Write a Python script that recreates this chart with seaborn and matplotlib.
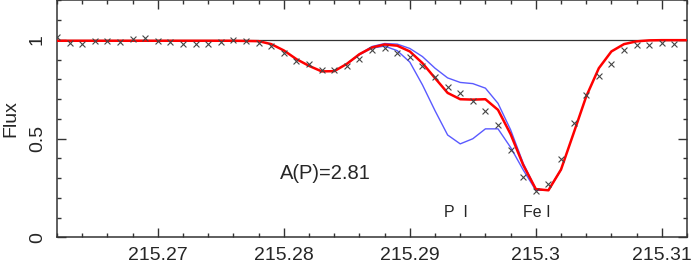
import numpy as np
import pandas as pd
import matplotlib
matplotlib.use("Agg")
import matplotlib.pyplot as plt
from matplotlib.ticker import MultipleLocator, FixedLocator
import seaborn as sns

# observed spectrum (crosses), sampled every 0.001 from 215.262
obs_start = 215.262
obs_flux = [1.012, 0.983, 0.981, 0.992, 0.993, 0.988, 1.005, 1.007, 0.993, 0.988,
            0.981, 0.981, 0.980, 0.988, 0.998, 0.992, 0.985, 0.966, 0.931, 0.895,
            0.877, 0.848, 0.848, 0.868, 0.905, 0.946, 0.958, 0.932, 0.912, 0.865,
            0.811, 0.760, 0.730, 0.691, 0.639, 0.568, 0.441, 0.304, 0.236, 0.272,
            0.397, 0.581, 0.721, 0.816, 0.877, 0.946, 0.971, 0.971, 0.985, 0.981]

# best fit synthesis A(P)=2.81 (red), same grid, one point longer
fit_flux = [0.995, 0.995, 0.995, 0.995, 0.995, 0.995, 0.995, 0.995, 0.995, 0.995,
            0.995, 0.995, 0.995, 0.995, 0.995, 0.994, 0.993, 0.978, 0.946, 0.902,
            0.868, 0.840, 0.841, 0.878, 0.927, 0.961, 0.976, 0.970, 0.941, 0.882,
            0.806, 0.731, 0.699, 0.697, 0.699, 0.645, 0.522, 0.366, 0.244, 0.238,
            0.343, 0.527, 0.713, 0.856, 0.941, 0.978, 0.992, 0.997, 0.998, 0.998,
            0.998]

# +/- abundance syntheses (blue), only where they differ from the fit
blue_start = 215.285
blue_hi = [0.878, 0.927, 0.966, 0.981, 0.978, 0.956, 0.915, 0.856, 0.807, 0.784,
           0.778, 0.755, 0.678, 0.544, 0.375, 0.245, 0.238, 0.343]
blue_lo = [0.878, 0.924, 0.958, 0.968, 0.945, 0.887, 0.772, 0.641, 0.518, 0.473,
           0.499, 0.549, 0.549, 0.455, 0.341, 0.238, 0.238, 0.343]

xticks = [215.27, 215.28, 215.29, 215.30, 215.31]
xtick_labels = ["215.27", "215.28", "215.29", "215.3", "215.31"]
yticks = [0, 0.5, 1]
ytick_labels = ["0", "0.5", "1"]


def grid(start, n):
    return np.round(start + 0.001 * np.arange(n), 4)


def main():
    sns.set_style("ticks")
    plt.rcParams["font.family"] = ["Liberation Sans", "DejaVu Sans"]

    obs = pd.DataFrame({"wave": grid(obs_start, len(obs_flux)), "flux": obs_flux})
    fit = pd.DataFrame({"wave": grid(obs_start, len(fit_flux)), "flux": fit_flux})
    hi = pd.DataFrame({"wave": grid(blue_start, len(blue_hi)), "flux": blue_hi})
    lo = pd.DataFrame({"wave": grid(blue_start, len(blue_lo)), "flux": blue_lo})

    fig = plt.figure(figsize=(6.92, 2.63), dpi=100)
    ax = fig.add_axes([0.0824, 0.0977, 0.9104, 0.9013])

    ax.axhline(1.0, color="#333333", lw=0.9, zorder=1)
    sns.lineplot(data=hi, x="wave", y="flux", color="#5a5aff", lw=1.0, ax=ax, zorder=2)
    sns.lineplot(data=lo, x="wave", y="flux", color="#5a5aff", lw=1.0, ax=ax, zorder=2)
    sns.lineplot(data=fit, x="wave", y="flux", color="#ff0000", lw=1.8, ax=ax, zorder=3)
    sns.scatterplot(data=obs, x="wave", y="flux", marker="x", s=18, color="#444444",
                    linewidth=0.8, ax=ax, zorder=4)

    ax.set_xlim(215.262, 215.312)
    ax.set_ylim(0, 1.2)
    ax.xaxis.set_major_locator(FixedLocator(xticks))
    ax.set_xticklabels(xtick_labels)
    ax.xaxis.set_minor_locator(MultipleLocator(0.002))
    ax.yaxis.set_major_locator(FixedLocator(yticks))
    ax.set_yticklabels(ytick_labels, rotation=90, va="center")
    ax.yaxis.set_minor_locator(MultipleLocator(0.1))

    ax.tick_params(which="both", direction="in", top=True, right=True,
                   color="#333333", width=1.0)
    ax.tick_params(which="major", length=6.5, labelsize=14)
    ax.tick_params(axis="x", which="major", pad=7)
    ax.tick_params(axis="y", which="major", pad=8)
    ax.tick_params(which="minor", length=3.2)
    for s in ax.spines.values():
        s.set_color("#333333")
        s.set_linewidth(1.1)

    ax.set_xlabel("")
    ax.set_ylabel("Flux", fontsize=14, labelpad=7)

    ax.text(215.2797, 0.325, "A(P)=2.81", fontsize=14.5, ha="left", va="center")
    ax.text(215.2927, 0.127, "P  I", fontsize=11.5, ha="left", va="center")
    ax.text(215.2990, 0.127, "Fe I", fontsize=11.5, ha="left", va="center")

    fig.savefig("out.png", dpi=100)
    plt.close(fig)


if __name__ == "__main__":
    main()
